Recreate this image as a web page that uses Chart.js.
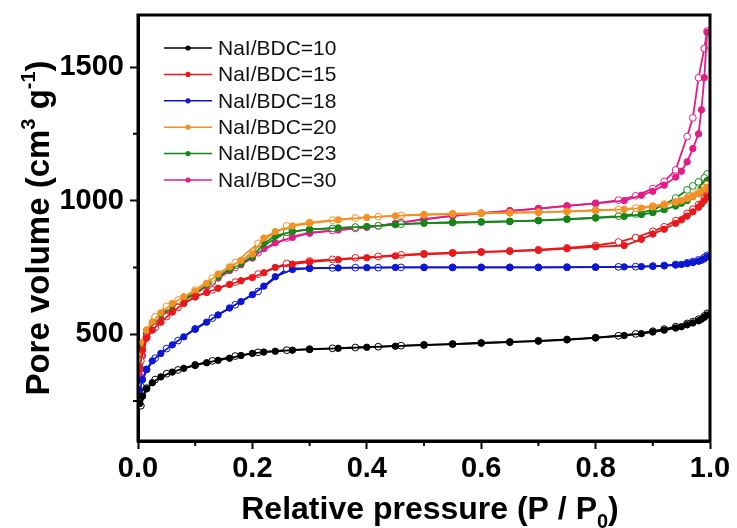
<!DOCTYPE html>
<html>
<head>
<meta charset="utf-8">
<script src="https://cdn.jsdelivr.net/npm/chart.js@4.4.1/dist/chart.umd.min.js"></script>
<style>
	html, body { margin: 0; padding: 0; background: #fff; }
	#wrap { width: 737px; height: 528px; }
</style>
</head>
<body>
<div id="wrap"><canvas id="iso"></canvas></div>
<script>
// N2 isotherms, adsorption (filled) and desorption (open) branches
var seriesNames = ['NaI/BDC=10', 'NaI/BDC=15', 'NaI/BDC=18', 'NaI/BDC=20', 'NaI/BDC=23', 'NaI/BDC=30'];
var seriesColors = ['#000000', '#e8191c', '#0d16d0', '#f39224', '#17861a', '#e21d86'];

var pAds = [0.003, 0.008, 0.015, 0.025, 0.04, 0.06, 0.08, 0.1, 0.12, 0.14, 0.16, 0.18, 0.2, 0.22, 0.24, 0.27, 0.3, 0.35, 0.4, 0.45,
	0.5, 0.55, 0.6, 0.65, 0.7, 0.75, 0.8, 0.85, 0.88, 0.9, 0.92, 0.94, 0.95, 0.96, 0.97, 0.98, 0.985, 0.99, 0.995];
var pDes = [0.995, 0.99, 0.98, 0.97, 0.96, 0.94, 0.92, 0.9, 0.87, 0.84, 0.8, 0.75, 0.7, 0.65, 0.6, 0.55, 0.5, 0.46, 0.42, 0.38,
	0.34, 0.3, 0.26, 0.21, 0.17, 0.13, 0.1, 0.07, 0.05, 0.03, 0.015, 0.005];

var ads10 = [240, 268, 295, 318, 340, 358, 372, 383, 393, 402, 410, 420, 428, 433, 436, 440, 443, 447, 451, 455,
	459, 463, 467, 470, 474, 479, 486, 495, 502, 508, 515, 523, 528, 535, 542, 550, 556, 563, 572];
var des10 = [578, 568, 556, 547, 540, 528, 519, 511, 501, 494, 487, 480, 475, 471, 467, 463, 460, 457, 453, 450,
	447, 444, 440, 432, 418, 400, 385, 366, 352, 330, 298, 232];

var ads15 = [370, 440, 485, 515, 545, 583, 615, 640, 656, 672, 686, 700, 712, 730, 750, 762, 770, 779, 786, 793,
	799, 803, 807, 810, 814, 820, 827, 832, 855, 875, 893, 915, 928, 942, 958, 975, 988, 1000, 1015];
var des15 = [1020, 1008, 985, 968, 952, 925, 902, 885, 862, 845, 832, 823, 816, 812, 808, 805, 801, 797, 791, 786,
	780, 774, 765, 725, 695, 666, 640, 600, 566, 525, 488, 400];

var ads18 = [290, 330, 368, 400, 428, 460, 490, 518, 545, 572, 598, 622, 648, 680, 715, 742, 746, 748, 749, 750,
	750, 750, 750, 750, 750, 750, 751, 752, 753, 754, 756, 759, 761, 764, 768, 773, 777, 782, 790];
var des18 = [795, 787, 778, 772, 767, 761, 757, 755, 753, 752, 751, 751, 750, 750, 750, 750, 750, 750, 749, 749,
	748, 747, 745, 660, 610, 560, 520, 476, 446, 410, 368, 305];

var ads20 = [400, 470, 515, 545, 580, 615, 640, 660, 690, 725, 752, 776, 800, 860, 884, 905, 915, 928, 937, 943,
	947, 950, 952, 954, 956, 959, 963, 967, 972, 977, 984, 994, 1000, 1008, 1016, 1026, 1032, 1040, 1050];
var des20 = [1060, 1048, 1032, 1020, 1010, 996, 987, 980, 972, 967, 964, 960, 957, 955, 953, 951, 948, 945, 940, 935,
	927, 918, 905, 840, 768, 710, 665, 628, 604, 565, 515, 430];

var ads23 = [390, 460, 505, 538, 572, 605, 630, 652, 685, 715, 742, 765, 790, 840, 868, 884, 892, 898, 903, 910,
	916, 918, 920, 922, 925, 930, 935, 941, 948, 955, 966, 980, 990, 1000, 1015, 1032, 1045, 1060, 1075];
var des23 = [1100, 1085, 1070, 1055, 1040, 1010, 985, 965, 950, 942, 936, 931, 926, 922, 920, 918, 916, 912, 906, 901,
	896, 892, 882, 820, 758, 700, 658, 620, 598, 558, 505, 420];

var ads30 = [345, 420, 490, 530, 565, 600, 628, 650, 680, 710, 738, 760, 785, 820, 842, 862, 878, 890, 900, 915,
	930, 943, 953, 962, 970, 980, 990, 1000, 1020, 1035, 1058, 1088, 1110, 1145, 1195, 1250, 1340, 1460, 1630];
var des30 = [1635, 1570, 1460, 1310, 1240, 1115, 1072, 1045, 1018, 1002, 990, 980, 970, 962, 953, 943, 931, 918, 905, 896,
	888, 880, 860, 805, 750, 695, 652, 615, 592, 550, 490, 370];

var adsValues = [ads10, ads15, ads18, ads20, ads23, ads30];
var desValues = [des10, des15, des18, des20, des23, des30];

var xTicks = [0, 0.2, 0.4, 0.6, 0.8, 1.0];
var xMinor = [0.1, 0.3, 0.5, 0.7, 0.9];
var yTicks = [500, 1000, 1500];
var yMinor = [250, 750, 1250];

function pairs(xs, ys) {
	var out = [];
	for (var i = 0; i < xs.length; i++) out.push({x: xs[i], y: ys[i]});
	return out;
}

var datasets = [];
for (var s = 0; s < seriesNames.length; s++) {
	datasets.push({
		label: seriesNames[s],
		data: pairs(pAds, adsValues[s]),
		borderColor: seriesColors[s],
		backgroundColor: seriesColors[s],
		pointBackgroundColor: seriesColors[s],
		pointBorderColor: seriesColors[s],
		borderWidth: 1.8,
		pointRadius: 3.2,
		pointBorderWidth: 1
	});
	datasets.push({
		label: seriesNames[s] + ' des',
		data: pairs(pDes, desValues[s]),
		borderColor: seriesColors[s],
		backgroundColor: '#ffffff',
		pointBackgroundColor: '#ffffff',
		pointBorderColor: seriesColors[s],
		borderWidth: 1.8,
		pointRadius: 3.4,
		pointBorderWidth: 1
	});
}

// draws a run of text pieces, some raised or lowered, centred on (cx, y)
function richText(ctx, parts, cx, y, size) {
	var small = Math.round(size * 0.62);
	var total = 0;
	parts.forEach(function(p) {
		ctx.font = 'bold ' + (p.s ? small : size) + 'px "Liberation Sans", Arial, sans-serif';
		p.w = ctx.measureText(p.t).width;
		total += p.w;
	});
	var x = cx - total / 2;
	parts.forEach(function(p) {
		ctx.font = 'bold ' + (p.s ? small : size) + 'px "Liberation Sans", Arial, sans-serif';
		var dy = p.s === 'sup' ? -size * 0.42 : (p.s === 'sub' ? size * 0.28 : 0);
		ctx.fillText(p.t, x, y + dy);
		x += p.w;
	});
}

var framePlugin = {
	id: 'frame',
	afterDraw: function(chart) {
		var ctx = chart.ctx, a = chart.chartArea;
		var xs = chart.scales.x, ys = chart.scales.y;
		ctx.save();
		ctx.strokeStyle = '#000';
		ctx.lineWidth = 3;
		ctx.strokeRect(a.left, a.top, a.right - a.left, a.bottom - a.top);

		// minor ticks
		ctx.lineWidth = 2;
		ctx.beginPath();
		xMinor.forEach(function(v) {
			var px = xs.getPixelForValue(v);
			ctx.moveTo(px, a.bottom);
			ctx.lineTo(px, a.bottom + 5);
		});
		yMinor.forEach(function(v) {
			var py = ys.getPixelForValue(v);
			ctx.moveTo(a.left, py);
			ctx.lineTo(a.left - 5, py);
		});
		ctx.stroke();

		// legend
		ctx.font = '21px "Liberation Sans", Arial, sans-serif';
		ctx.textBaseline = 'middle';
		ctx.textAlign = 'left';
		for (var i = 0; i < seriesNames.length; i++) {
			var ly = 48 + i * 26.4;
			ctx.strokeStyle = seriesColors[i];
			ctx.fillStyle = seriesColors[i];
			ctx.lineWidth = 1.5;
			ctx.beginPath();
			ctx.moveTo(164, ly);
			ctx.lineTo(212, ly);
			ctx.stroke();
			ctx.beginPath();
			ctx.arc(188, ly, 2.6, 0, Math.PI * 2);
			ctx.fill();
			ctx.fillStyle = '#111';
			ctx.fillText(seriesNames[i], 218, ly + 1);
		}

		// axis titles
		ctx.fillStyle = '#000';
		ctx.textBaseline = 'alphabetic';
		richText(ctx, [{t: 'Relative pressure (P / P'}, {t: '0', s: 'sub'}, {t: ')'}], (a.left + a.right) / 2 + 6, 519, 32);
		ctx.translate(49, (a.top + a.bottom) / 2);
		ctx.rotate(-Math.PI / 2);
		richText(ctx, [{t: 'Pore volume (cm'}, {t: '3', s: 'sup'}, {t: ' g'}, {t: '-1', s: 'sup'}, {t: ')'}], 0, 0, 33);
		ctx.restore();
	}
};

var axisFont = {family: '"Liberation Sans", Arial, sans-serif', size: 29, weight: 'bold'};

new Chart(document.getElementById('iso'), {
	type: 'line',
	data: {datasets: datasets},
	options: {
		responsive: true,
		maintainAspectRatio: false,
		animation: false,
		events: [],
		layout: {padding: {left: 0, top: 15, right: 27, bottom: 0}},
		plugins: {legend: {display: false}, tooltip: {enabled: false}},
		scales: {
			x: {
				type: 'linear',
				min: 0,
				max: 1,
				afterBuildTicks: function(axis) { axis.ticks = xTicks.map(function(v) { return {value: v}; }); },
				afterFit: function(axis) { axis.height = 87; },
				ticks: {
					font: axisFont,
					color: '#000',
					padding: 3,
					maxRotation: 0,
					callback: function(v) { return v.toFixed(1); }
				},
				grid: {drawOnChartArea: false, drawTicks: true, tickLength: 8, tickWidth: 2, tickColor: '#000'},
				border: {display: true, width: 3, color: '#000'}
			},
			y: {
				type: 'linear',
				min: 100,
				max: 1695,
				afterBuildTicks: function(axis) { axis.ticks = yTicks.map(function(v) { return {value: v}; }); },
				afterFit: function(axis) {
					axis.width = 138;
					axis.paddingTop = 0;
					axis.paddingBottom = 0;
				},
				ticks: {
					font: axisFont,
					color: '#000',
					padding: 6,
					callback: function(v) { return String(v); }
				},
				grid: {drawOnChartArea: false, drawTicks: true, tickLength: 8, tickWidth: 2, tickColor: '#000'},
				border: {display: true, width: 3, color: '#000'}
			}
		}
	},
	plugins: [framePlugin]
});
</script>
</body>
</html>
